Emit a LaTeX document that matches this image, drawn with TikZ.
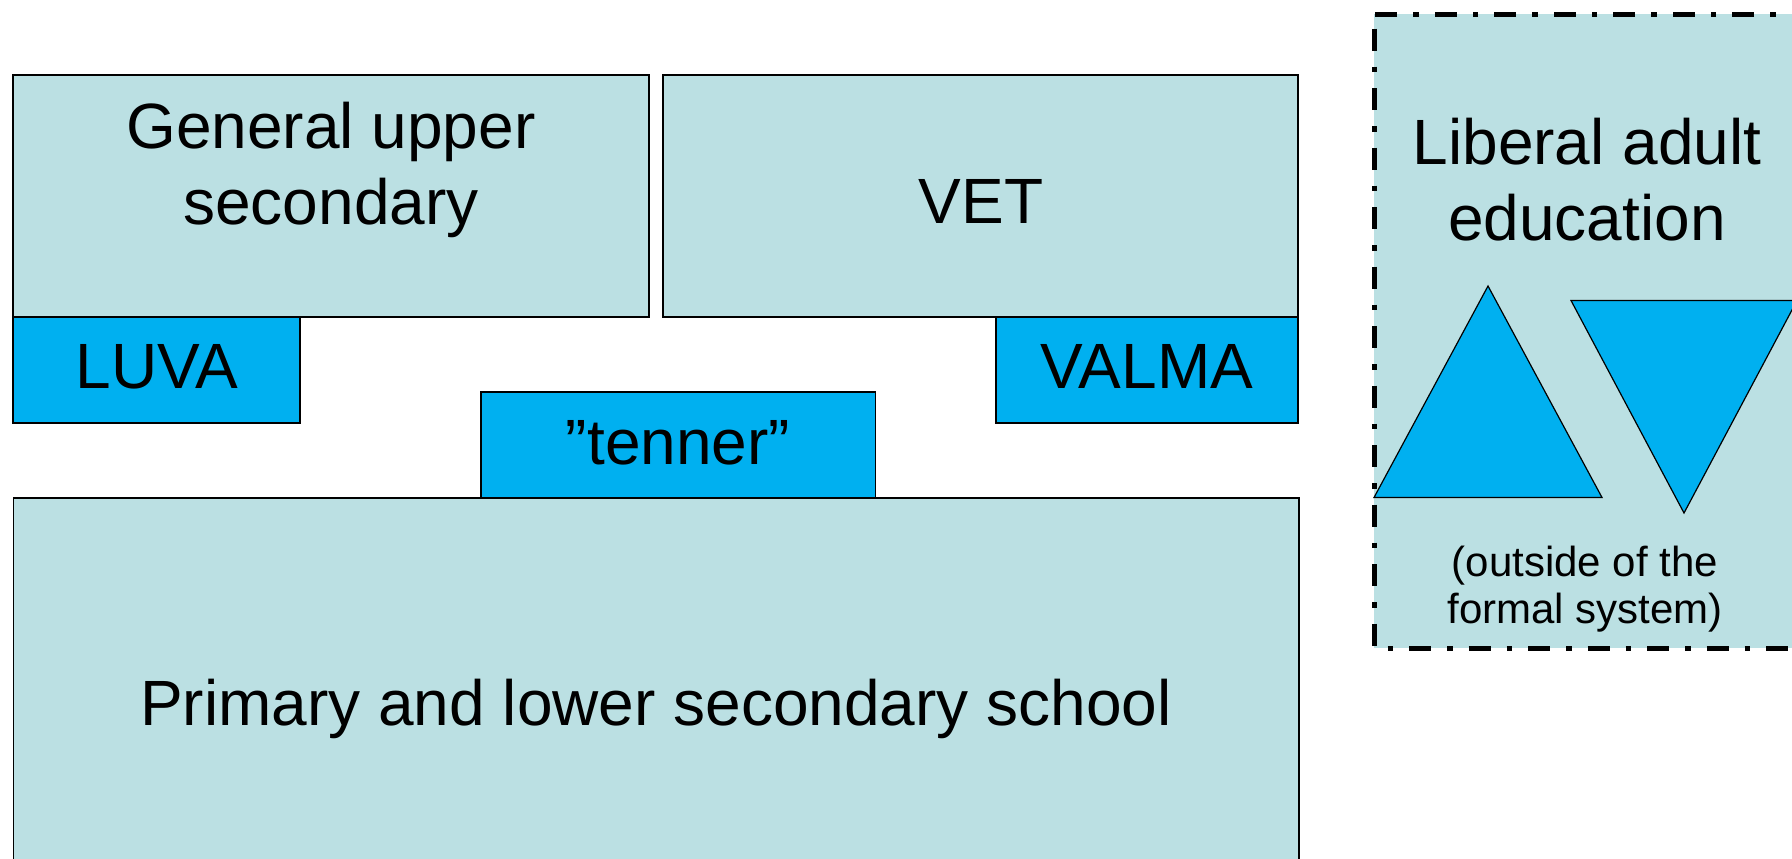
\documentclass[tikz,border=0pt]{standalone}
\usepackage{fontspec}
\setmainfont{Liberation Sans}
\usetikzlibrary{fit}
\definecolor{lightb}{RGB}{187,224,227}
\definecolor{brightb}{RGB}{0,176,240}
\tikzset{
  lbox/.style={draw=black, fill=lightb, line width=0.6pt, inner sep=0pt, rectangle},
  bbox/.style={draw=black, fill=brightb, line width=0.6pt, inner sep=0pt, rectangle},
  bigtxt/.style={font=\fontsize{32}{38}\selectfont, inner sep=0pt, anchor=base},
  smalltxt/.style={font=\fontsize{21}{25}\selectfont, inner sep=0pt, anchor=base},
  tri/.style={draw=black, fill=brightb, line width=0.6pt, line join=miter},
  dashbox/.style={draw=black, fill=lightb, line width=2.5pt,
    dash pattern=on 11pt off 8pt on 2.75pt off 8pt, dash phase=22.5pt}
}
\begin{document}
\begin{tikzpicture}[x=0.5pt,y=-0.5pt]
\useasboundingbox (0,0) rectangle (1792,858);
\clip (0,0) rectangle (1792,858);

% upper boxes
\node[lbox, fit={(13,75) (649,317)}] (gen) {};
\node[lbox, fit={(663,75) (1298,317)}] (vet) {};
\node[bbox, fit={(13,317) (300,423)}] (luva) {};
\node[bbox, fit={(996,317) (1298,423)}] (valma) {};
% lower boxes
\node[lbox, fit={(13.5,498) (1299,880)}] (prim) {};
\node[bbox, fit={(481,392) (875.5,498)}] (tenner) {};

% texts
\node[bigtxt] (gent1) at (331,148.3) {General upper};
\node[bigtxt] (gent2) at (331,224) {secondary};
\node[bigtxt] (vett) at (981,223.3) {VET};
\node[bigtxt] (luvat) at (157,388.3) {LUVA};
\node[bigtxt] (valmat) at (1147,388.3) {VALMA};
\node[bigtxt] (tennert) at (678,464.3) {”tenner”};
\node[bigtxt] (primt) at (656,725) {Primary and lower secondary school};

% liberal adult education panel
\draw[dashbox] (1374,14) -- (1374,648) -- (1800,648) -- (1800,14) -- cycle;
\node[bigtxt] (lib1) at (1587,164.8) {Liberal adult};
\node[bigtxt] (lib2) at (1587,240.7) {education};
\draw[tri] (1488,286) -- (1602,497.5) -- (1374,497.5) -- cycle;
\draw[tri] (1571,300.5) -- (1797,300.5) -- (1684,513) -- cycle;
\node[smalltxt] (out1) at (1585,576.7) {(outside of the};
\node[smalltxt] (out2) at (1585,623.3) {formal system)};
\end{tikzpicture}
\end{document}
